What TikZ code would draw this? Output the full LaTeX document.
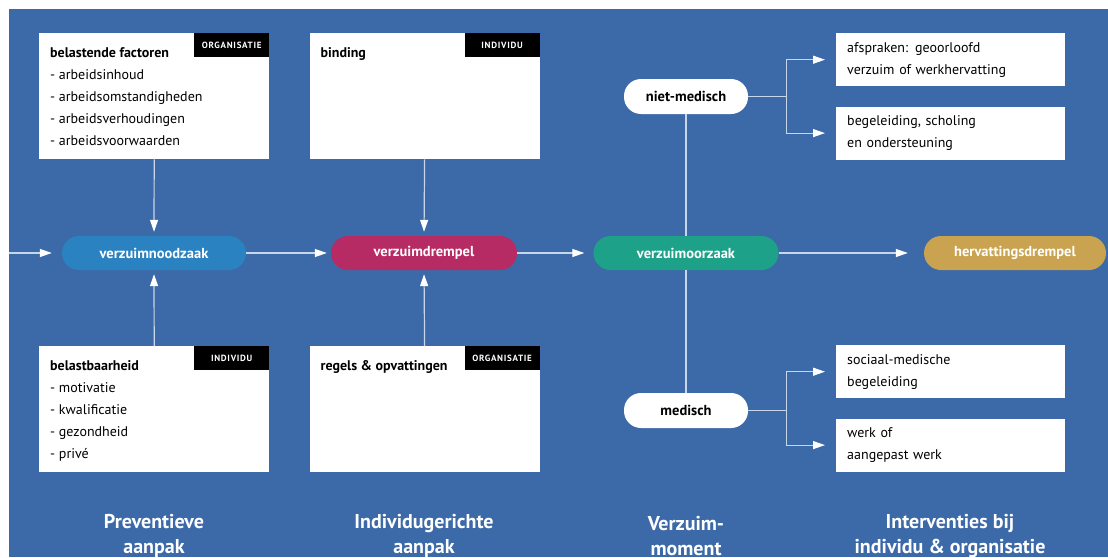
\documentclass[tikz,border=0pt]{standalone}
\usepackage{fontspec}
\setmainfont{PT Sans}
\usetikzlibrary{
  arrows.meta,
  positioning,
}
\definecolor{bgblue}{RGB}{60,106,168}
\definecolor{pillblue}{RGB}{42,130,193}
\definecolor{pillred}{RGB}{183,43,100}
\definecolor{pillgreen}{RGB}{29,161,136}
\definecolor{pillgold}{RGB}{201,163,80}
\definecolor{linegrey}{RGB}{200,214,234}
\tikzstyle{connector} = [
  -{Triangle[length=12pt,width=8pt,color=white]},
  line width=1.2pt,
  linegrey,
]
\tikzstyle{plainline} = [
  line width=1.2pt,
  linegrey,
]
\tikzstyle{pill} = [
  rectangle,
  rounded corners=17pt,
  minimum width=184pt,
  minimum height=34pt,
  inner sep=0pt,
  text=white,
  font=\fontsize{14.5}{17}\selectfont\bfseries,
]
\tikzstyle{choice} = [
  pill,
  fill=white,
  text=black,
  minimum width=124pt,
  minimum height=35pt,
]
\tikzstyle{card} = [
  rectangle,
  fill=white,
  anchor=north west,
  minimum width=230pt,
  minimum height=126pt,
  inner xsep=11pt,
  inner ysep=14pt,
  font=\fontsize{14}{22}\selectfont,
]
\tikzstyle{tag} = [
  rectangle,
  fill=black,
  text=white,
  anchor=north east,
  minimum width=75pt,
  minimum height=24pt,
  inner sep=0pt,
  font=\fontsize{9}{10}\selectfont\bfseries\addfontfeatures{LetterSpace=8},
]
\tikzstyle{note} = [
  rectangle,
  fill=white,
  anchor=north west,
  minimum width=229pt,
  minimum height=53pt,
  text width=207pt,
  align=left,
  inner xsep=11pt,
  font=\fontsize{14}{22}\selectfont,
]
\tikzstyle{phase} = [
  text=white,
  align=center,
  font=\fontsize{20}{25}\selectfont\bfseries,
]

\begin{document}
\begin{tikzpicture}[x=1pt,y=-1pt,node distance=20pt and 40pt]
      \fill[white] (0,0) rectangle (1108,557);
      \fill[bgblue] (9,9) rectangle (1108,557);
      \useasboundingbox (0,0) rectangle (1108,557);

      % kaarten boven en onder
      \node[card]    (factoren)  at (39,33)   {\parbox[t][98pt][t]{208pt}{\textbf{belastende factoren}\\- arbeidsinhoud\\- arbeidsomstandigheden\\- arbeidsverhoudingen\\- arbeidsvoorwaarden}};
      \node[card]    (binding)  [right=of factoren]    {\parbox[t][98pt][t]{208pt}{\textbf{binding}}};
      \node[card]    (belast)  at (39,346)   {\parbox[t][98pt][t]{208pt}{\textbf{belastbaarheid}\\- motivatie\\- kwalificatie\\- gezondheid\\- privé}};
      \node[card]    (regels)  [right=of belast]    {\parbox[t][98pt][t]{208pt}{\textbf{regels \& opvattingen}}};

      \node[tag]    (factorentag)  at (factoren.north east)    {ORGANISATIE};
      \node[tag]    (bindingtag)  at (binding.north east)    {INDIVIDU};
      \node[tag]    (belasttag)  at (belast.north east)    {INDIVIDU};
      \node[tag]    (regelstag)  at (regels.north east)    {ORGANISATIE};

      % verzuimketen
      \node[pill,fill=pillblue]    (noodzaak)  at (154,253)    {verzuimnoodzaak};
      \node[pill,fill=pillred,minimum width=186pt]    (drempel)  at (424,253)    {verzuimdrempel};
      \node[pill,fill=pillgreen,minimum width=185pt]    (oorzaak)  at (686,253)    {verzuimoorzaak};
      \node[pill,fill=pillgold,minimum width=182pt]    (hervatting)  at (1015,253)    {hervattingsdrempel};

      \node[choice]    (nietmedisch)  at (686,96.5)    {niet-medisch};
      \node[choice]    (medisch)  at (686,410.5)    {medisch};

      % interventies
      \node[note]    (afspraken)  at (836,33)    {afspraken: geoorloofd\\verzuim of werkhervatting};
      \node[note]    (scholing)  [below=of afspraken]    {begeleiding, scholing\\en ondersteuning};
      \node[note]    (sociaal)  at (836,345)    {sociaal-medische\\begeleiding};
      \node[note]    (aangepast)  [below=of sociaal]    {werk of\\aangepast werk};

      % fasen
      \node[phase]    (preventief)  at (154,536)    {Preventieve\\aanpak};
      \node[phase]    (individueel)  at (424,536)    {Individugerichte\\aanpak};
      \node[phase]    (moment)  at (686,536)    {Verzuim-\\moment};
      \node[phase]    (interventie)  at (950,536)    {Interventies bij\\individu \& organisatie};

      \coordinate (start) at (9,253);
      \coordinate (splitboven) at ([xshift=38pt]nietmedisch.east);
      \coordinate (splitonder) at ([xshift=38pt]medisch.east);

      \draw[connector,shorten >=10pt] (start) -- (noodzaak.west);
      \draw[connector,shorten >=4pt] (noodzaak.east) -- (drempel.west);
      \draw[connector,shorten >=9pt] (drempel.east) -- (oorzaak.west);
      \draw[connector,shorten >=16pt] (oorzaak.east) -- (hervatting.west);
      \draw[connector,shorten >=4pt] (factoren.south) -- (noodzaak.north);
      \draw[connector,shorten >=4pt] (belast.north) -- (noodzaak.south);
      \draw[connector,shorten >=4pt] (binding.south) -- (drempel.north);
      \draw[connector,shorten >=4pt] (regels.north) -- (drempel.south);

      \draw[plainline] (nietmedisch) -- (oorzaak);
      \draw[plainline] (oorzaak) -- (medisch);
      \draw[plainline] (nietmedisch.east) -- (splitboven);
      \draw[plainline] (medisch.east) -- (splitonder);
      \draw[connector,shorten >=11pt] (splitboven) |- (afspraken.west);
      \draw[connector,shorten >=11pt] (splitboven) |- (scholing.west);
      \draw[connector,shorten >=11pt] (splitonder) |- (sociaal.west);
      \draw[connector,shorten >=11pt] (splitonder) |- (aangepast.west);
\end{tikzpicture}
\end{document}
